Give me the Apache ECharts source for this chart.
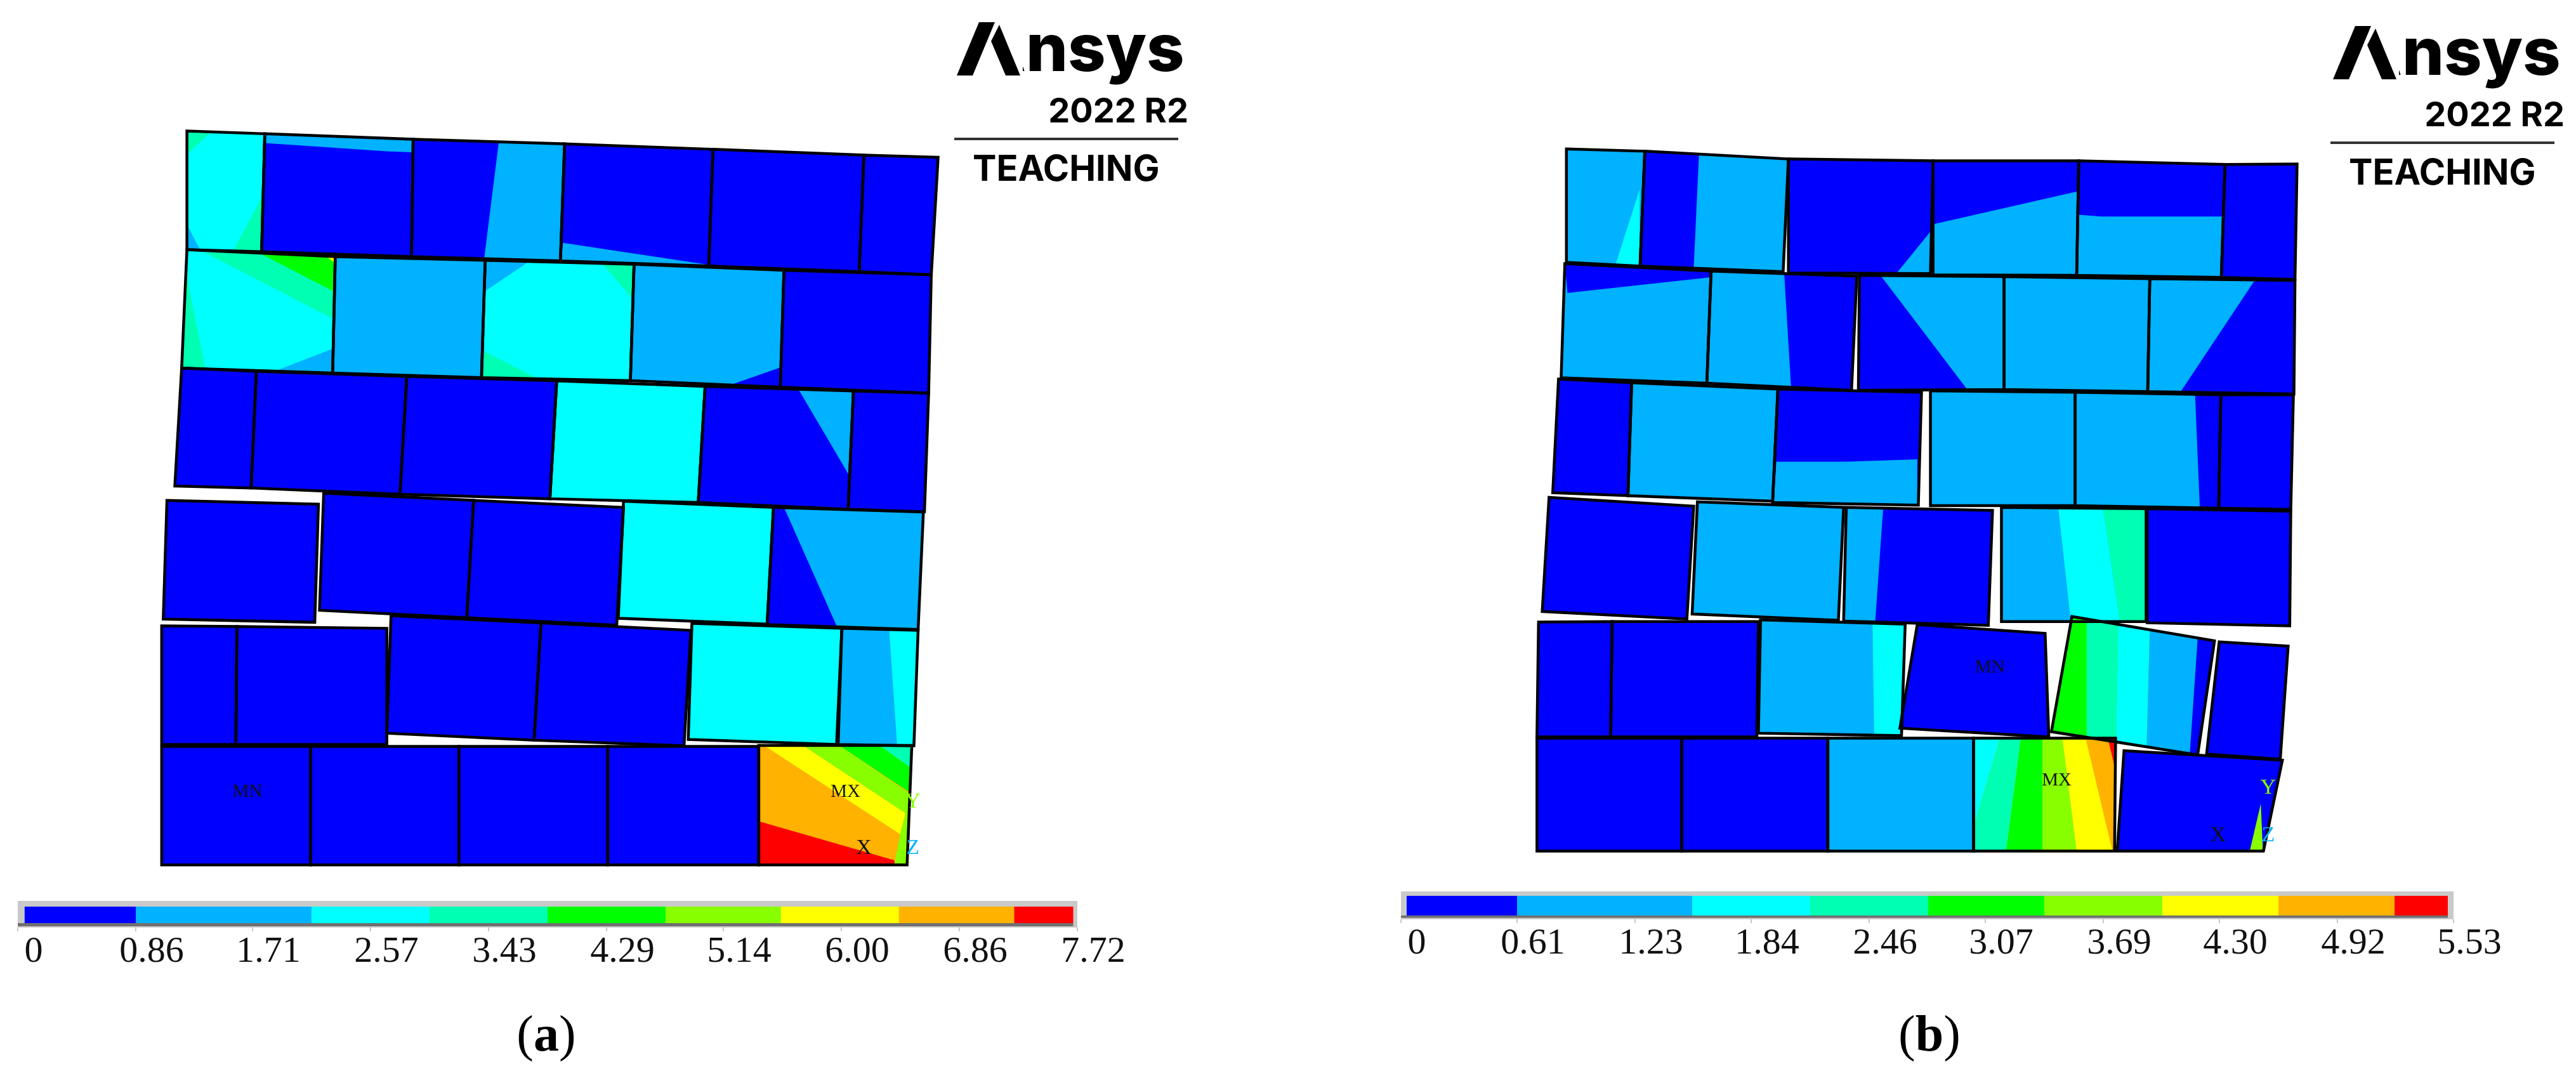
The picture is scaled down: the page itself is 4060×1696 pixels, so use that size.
<!DOCTYPE html>
<html>
<head>
<meta charset="utf-8">
<style>
  html, body { margin: 0; background: #fff; }
  #chart { width: 4060px; height: 1696px; }
</style>
<script src="https://cdn.jsdelivr.net/npm/echarts@6/dist/echarts.min.js"></script>
</head>
<body>
<div id="chart"></div>
<script>
// contour band order: 0 blue ... 8 red
const bandColors = ['#0000ff', '#00b2ff', '#00ffff', '#00ffb2', '#00ff00', '#88ff00', '#ffff00', '#ffb200', '#ff0000'];

// colour bars
const tickLabelsA = ['0', '0.86', '1.71', '2.57', '3.43', '4.29', '5.14', '6.00', '6.86', '7.72'];
const bandBreaksA = [0.05, 0.86, 2.14, 3.0, 3.86, 4.72, 5.56, 6.42, 7.26, 7.69];
const tickLabelsB = ['0', '0.61', '1.23', '1.84', '2.46', '3.07', '3.69', '4.30', '4.92', '5.53'];
const bandBreaksB = [0.03, 0.61, 1.53, 2.15, 2.77, 3.38, 4.0, 4.61, 5.22, 5.5];

// masonry units as [band, outline, patches], outline and patches
const unitsATop = [
  [2, [[90,67],[238,78],[232,548],[90,540]], [
    [3, [[90,67],[135,72],[93,155]]],
    [3, [[235,320],[232,548],[178,545]]],
    [1, [[90,440],[115,540],[90,540]]]]],
  [0, [[238,78],[520,100],[517,568],[232,548]], [
    [1, [[238,78],[520,100],[517,152],[470,148],[238,115]]]]],
  [0, [[520,100],[808,118],[800,585],[517,568]], [
    [1, [[683,108],[808,118],[800,585],[655,577]]]]],
  [0, [[808,118],[1090,140],[1082,605],[800,585]], [
    [1, [[805,513],[1075,598],[1082,605],[800,585]]]]],
  [0, [[1090,140],[1377,163],[1368,628],[1082,605]], []],
  [0, [[1377,163],[1518,172],[1505,640],[1368,628]], []],
  [2, [[90,540],[372,568],[367,1032],[80,1012]], [
    [3, [[118,545],[372,568],[367,815]]],
    [4, [[232,558],[372,568],[368,705]]],
    [6, [[355,568],[372,568],[370,590]]],
    [3, [[90,640],[95,700],[125,1012],[80,1012]]],
    [1, [[367,935],[260,1022],[367,1032]]]]],
  [1, [[372,568],[657,582],[650,1050],[367,1032]], []],
  [2, [[657,582],[940,598],[933,1062],[650,1050]], [
    [1, [[657,582],[740,588],[657,705]]],
    [3, [[655,945],[755,1052],[650,1050]]],
    [3, [[880,596],[940,598],[937,735]]]]],
  [1, [[940,598],[1225,622],[1218,1088],[933,1062]], [
    [0, [[1218,1010],[1125,1078],[1218,1088]]]]],
  [0, [[1225,622],[1505,640],[1500,1112],[1218,1088]], []],
  [0, [[80,1012],[222,1025],[212,1490],[67,1482]], []],
  [0, [[222,1025],[508,1045],[495,1515],[212,1490]], []],
  [0, [[508,1045],[793,1063],[780,1533],[495,1515]], []],
  [2, [[793,1063],[1075,1085],[1062,1548],[780,1533]], []],
  [0, [[1075,1085],[1357,1103],[1347,1575],[1062,1548]], [
    [1, [[1252,1095],[1357,1103],[1349,1440]]]]],
  [0, [[1357,1103],[1500,1112],[1492,1585],[1347,1575]], []]
];

const unitsABottom = [
  [0, [[52,22],[340,37],[333,508],[45,495]], []],
  [0, [[350,-7],[635,22],[622,490],[342,460]], []],
  [0, [[635,22],[920,50],[907,520],[622,490]], []],
  [2, [[920,25],[1205,50],[1193,515],[910,492]], []],
  [0, [[1205,50],[1490,68],[1480,537],[1193,517]], [
    [1, [[1225,50],[1490,68],[1480,537],[1325,522]]]]],
  [0, [[42,522],[185,525],[183,995],[42,995]], []],
  [0, [[185,525],[470,532],[470,995],[183,995]], []],
  [0, [[478,482],[763,510],[750,978],[470,950]], []],
  [0, [[763,510],[1048,540],[1035,1000],[750,978]], []],
  [2, [[1050,512],[1335,532],[1325,995],[1043,975]], []],
  [1, [[1335,532],[1480,540],[1472,1000],[1328,995]], [
    [2, [[1425,538],[1480,540],[1472,1000],[1440,998]]]]],
  [0, [[42,1003],[325,1003],[325,1475],[42,1475]], []],
  [0, [[325,1003],[607,1003],[607,1475],[325,1475]], []],
  [0, [[607,1003],[890,1003],[890,1475],[607,1475]], []],
  [0, [[890,1003],[1177,1003],[1177,1475],[890,1475]], []],
  [7, [[1177,999],[1468,999],[1459,1475],[1177,1475]], [
    [8, [[1178,1302],[1435,1457],[1435,1475],[1178,1475]]],
    [6, [[1190,1003],[1264,1003],[1456,1269],[1446,1353]]],
    [5, [[1264,1003],[1333,1003],[1463,1189],[1459,1475],[1435,1475],[1446,1353],[1456,1269]]],
    [4, [[1333,1003],[1409,1003],[1465,1086],[1463,1185]]],
    [3, [[1409,1003],[1467,1003],[1465,1086]]]]]
];

const unitsBTop = [
  [1, [[83,88],[232,97],[223,555],[83,540]], [
    [2, [[222,250],[222,552],[177,545]]]]],
  [1, [[232,97],[505,128],[495,577],[223,555]], [
    [0, [[232,97],[335,110],[325,560],[223,555]]]]],
  [0, [[505,128],[780,135],[775,585],[505,582]], [
    [1, [[778,410],[775,582],[712,580]]]]],
  [0, [[780,135],[1057,135],[1053,592],[780,590]], [
    [1, [[780,388],[1053,258],[1053,592],[780,590]]]]],
  [0, [[1057,135],[1335,150],[1328,600],[1053,592]], [
    [1, [[1057,350],[1100,357],[1330,357],[1328,600],[1053,592]]]]],
  [0, [[1335,150],[1472,148],[1468,608],[1328,600]], []],
  [1, [[80,545],[358,575],[350,1022],[73,1000]], [
    [0, [[80,545],[358,575],[355,600],[85,662]]]]],
  [1, [[358,575],[635,595],[625,1050],[350,1022]], [
    [0, [[497,585],[635,595],[625,1050],[510,1035]]]]],
  [1, [[640,592],[915,597],[915,1047],[638,1050]], [
    [0, [[640,592],[680,592],[845,1047],[638,1050]]]]],
  [1, [[915,597],[1192,605],[1188,1055],[915,1047]], []],
  [1, [[1192,605],[1468,612],[1466,1065],[1188,1055]], [
    [0, [[1392,610],[1468,612],[1466,1065],[1250,1058]]]]],
  [0, [[68,1005],[207,1020],[200,1470],[57,1458]], []],
  [1, [[207,1020],[485,1045],[475,1492],[200,1470]], []],
  [0, [[485,1045],[758,1058],[752,1508],[475,1497]], [
    [1, [[482,1335],[615,1335],[750,1325],[750,1508],[477,1497]]]]],
  [1, [[775,1052],[1050,1058],[1050,1510],[775,1510]], []],
  [1, [[1050,1058],[1327,1068],[1323,1520],[1050,1510]], [
    [0, [[1278,1065],[1327,1068],[1323,1520],[1287,1515]]]]],
  [0, [[1327,1068],[1465,1068],[1460,1525],[1323,1520]], []]
];

const unitsBBottom = [
  [0, [[50,10],[325,45],[312,495],[37,465]], []],
  [1, [[332,28],[610,50],[600,500],[322,475]], []],
  [0, [[615,50],[893,62],[885,520],[610,503]], [
    [1, [[615,50],[685,58],[670,505],[610,503]]]]],
  [1, [[910,50],[1185,55],[1185,505],[910,505]], [
    [2, [[1018,50],[1103,52],[1135,505],[1042,505]]],
    [3, [[1103,52],[1185,55],[1185,505],[1135,505]]]]],
  [0, [[1187,55],[1460,65],[1458,522],[1187,510]], []],
  [0, [[30,507],[170,505],[167,965],[27,965]], []],
  [0, [[170,505],[448,505],[445,965],[167,965]], []],
  [1, [[452,498],[727,515],[720,960],[448,950]], [
    [2, [[665,512],[727,515],[718,962],[668,960]]]]],
  [0, [[750,517],[993,552],[1000,965],[717,930]], []],
  [4, [[1044,485],[1315,582],[1283,1037],[1005,944]], [
    [3, [[1072,495],[1132,516],[1128,985],[1072,966]]],
    [2, [[1132,516],[1192,538],[1186,1004],[1128,985]]],
    [1, [[1192,538],[1283,570],[1268,1032],[1186,1004]]],
    [0, [[1283,570],[1315,582],[1283,1037],[1268,1032]]]]],
  [0, [[1324,586],[1455,603],[1440,1054],[1300,1033]], []],
  [0, [[27,970],[302,970],[302,1420],[27,1420]], []],
  [0, [[302,970],[580,970],[580,1420],[302,1420]], []],
  [1, [[580,970],[857,970],[857,1420],[580,1420]], []],
  [7, [[857,970],[1127,970],[1125,1420],[857,1420]], [
    [2, [[858,970],[907,970],[858,1315]]],
    [3, [[907,970],[947,970],[919,1420],[858,1420],[858,1315]]],
    [4, [[947,970],[988,970],[988,1420],[919,1420]]],
    [5, [[988,970],[1026,970],[1053,1420],[988,1420]]],
    [6, [[1026,970],[1070,970],[1121,1420],[1053,1420]]],
    [8, [[1113,976],[1125,970],[1125,1083]]]]],
  [0, [[1143,1020],[1444,1058],[1408,1420],[1130,1420]], [
    [5, [[1403,1231],[1407,1420],[1382,1420]]]]]
];

// plot annotations
const tagsA = [['MN', 205, 1185], ['MX', 1342, 1185], ['X', 1377, 1408], ['Y', 1470, 1225], ['Z', 1470, 1408]];
const tagsB = [['MN', 888, 690], ['MX', 1015, 1140], ['X', 1322, 1358], ['Y', 1417, 1168], ['Z', 1417, 1358]];
const tagColors = { MN: '#111', MX: '#111', X: '#111', Y: '#88ff00', Z: '#00b2ff' };

const serif = '"Liberation Serif", "Times New Roman", serif';

function unitsSeries(units, gridIndex) {
  const polys = [];
  units.forEach(u => {
    polys.push({ band: u[0], points: u[1] });
    u[2].forEach(p => polys.push({ band: p[0], points: p[1] }));
  });
  units.forEach(u => polys.push({ band: -1, points: u[1] }));
  return {
    type: 'custom',
    xAxisIndex: gridIndex,
    yAxisIndex: gridIndex,
    silent: true,
    encode: { x: 0, y: 1 },
    data: polys.map(p => [p.points[0][0], p.points[0][1], p.band]),
    renderItem: function (params, api) {
      const poly = polys[params.dataIndex];
      const points = poly.points.map(pt => api.coord(pt));
      if (poly.band < 0) {
        return { type: 'polygon', shape: { points: points }, style: { fill: 'none', stroke: '#000', lineWidth: 4.5 } };
      }
      return { type: 'polygon', shape: { points: points }, style: { fill: bandColors[poly.band] } };
    }
  };
}

function tagsSeries(tags, gridIndex) {
  return {
    type: 'custom',
    xAxisIndex: gridIndex,
    yAxisIndex: gridIndex,
    silent: true,
    z: 5,
    encode: { x: 1, y: 2 },
    data: tags,
    renderItem: function (params, api) {
      const pos = api.coord([api.value(1), api.value(2)]);
      const tag = tags[params.dataIndex][0];
      const size = tag.length > 1 ? 29 : 34;
      return {
        type: 'text',
        x: pos[0],
        y: pos[1],
        style: { text: tag, fill: tagColors[tag], font: size + 'px ' + serif, align: 'center', verticalAlign: 'middle' }
      };
    }
  };
}

function barSeries(breaks, gridIndex, bandLow, bandHigh, shadeLow) {
  const bars = [];
  bandColors.forEach((c, i) => bars.push([breaks[i], breaks[i + 1], bandLow, bandHigh, c]));
  // dark lower rim of the legend frame
  bars.push([0, breaks[9], shadeLow, bandLow, '#707070']);
  return {
    type: 'custom',
    xAxisIndex: gridIndex,
    yAxisIndex: gridIndex,
    silent: true,
    encode: { x: [0, 1] },
    data: bars,
    renderItem: function (params, api) {
      const bar = bars[params.dataIndex];
      const a = api.coord([bar[0], bar[3]]);
      const b = api.coord([bar[1], bar[2]]);
      return { type: 'rect', shape: { x: a[0], y: a[1], width: b[0] - a[0], height: b[1] - a[1] }, style: { fill: bar[4] } };
    }
  };
}

function hiddenAxes(gridIndex, xMax, yMax) {
  return {
    x: { type: 'value', gridIndex: gridIndex, show: false, min: 0, max: xMax },
    y: { type: 'value', gridIndex: gridIndex, show: false, min: 0, max: yMax, inverse: true }
  };
}

function barAxis(labels, gridIndex) {
  const ticks = labels.map(Number);
  return {
    type: 'value',
    gridIndex: gridIndex,
    min: 0,
    max: ticks[ticks.length - 1],
    splitLine: { show: false },
    axisLine: { show: false },
    axisTick: { show: true, customValues: ticks, length: 6, lineStyle: { color: '#c8c8c8', width: 2 } },
    axisLabel: {
      customValues: ticks,
      formatter: v => labels[ticks.indexOf(v)],
      color: '#111',
      fontFamily: serif,
      fontSize: 58,
      margin: 10,
      padding: [0, 0, 0, 50],
      hideOverlap: false
    }
  };
}

function logo(dx, dy) {
  const black = { fill: '#000' };
  return [
    { type: 'text', x: 1537 + dx, y: 81 + dy, style: { text: 'Ansys', font: '800 104px Inter', fill: '#000', verticalAlign: 'middle' } },
    { type: 'rect', shape: { x: 1500 + dx, y: 25 + dy, width: 112, height: 100 }, style: { fill: '#fff' } },
    { type: 'polygon', shape: { points: [[1508 + dx, 119 + dy], [1543 + dx, 35 + dy], [1568 + dx, 35 + dy], [1533 + dx, 119 + dy]] }, style: black },
    { type: 'polygon', shape: { points: [[1575 + dx, 39 + dy], [1562 + dx, 65 + dy], [1585 + dx, 119 + dy], [1608 + dx, 119 + dy]] }, style: black },
    { type: 'text', x: 1873 + dx, y: 177 + dy, style: { text: '2022 R2', font: '700 54px Inter', fill: '#000', align: 'right', verticalAlign: 'middle' } },
    { type: 'rect', shape: { x: 1504 + dx, y: 217 + dy, width: 353, height: 4 }, style: { fill: '#333' } },
    { type: 'text', x: 1533 + dx, y: 268 + dy, style: { text: 'TEACHING', font: '700 56px Inter', fill: '#000', verticalAlign: 'middle' } }
  ];
}

function caption(letter, x) {
  return {
    type: 'text',
    x: x,
    y: 1635,
    style: {
      text: '({b|' + letter + '})',
      font: '80px ' + serif,
      fill: '#000',
      align: 'center',
      verticalAlign: 'middle',
      rich: { b: { font: 'bold 80px ' + serif, fill: '#000' } }
    }
  };
}

const axesList = [
  hiddenAxes(0, 1568, 1568), hiddenAxes(1, 1568, 1568),
  hiddenAxes(2, 1568, 1568), hiddenAxes(3, 1568, 1568)
];

const option = {
  animation: false,
  backgroundColor: '#fff',
  grid: [
    { left: 220, top: 180, width: 1300, height: 620 },
    { left: 220, top: 780, width: 1300, height: 620 },
    { left: 2400, top: 200, width: 1300, height: 620 },
    { left: 2400, top: 780, width: 1300, height: 620 },
    { left: 28, top: 1420, width: 1670, height: 42, show: true, backgroundColor: '#c9c9c9', borderWidth: 0 },
    { left: 2208, top: 1405, width: 1659, height: 44, show: true, backgroundColor: '#c9c9c9', borderWidth: 0 }
  ],
  xAxis: axesList.map(a => a.x).concat([barAxis(tickLabelsA, 4), barAxis(tickLabelsB, 5)]),
  yAxis: axesList.map(a => a.y).concat([
    { type: 'value', gridIndex: 4, show: false, min: 0, max: 1 },
    { type: 'value', gridIndex: 5, show: false, min: 0, max: 1 }
  ]),
  series: [
    unitsSeries(unitsATop, 0),
    unitsSeries(unitsABottom, 1),
    unitsSeries(unitsBTop, 2),
    unitsSeries(unitsBBottom, 3),
    tagsSeries(tagsA, 1),
    tagsSeries(tagsB, 3),
    barSeries(bandBreaksA, 4, 0.167, 0.786, 0.05),
    barSeries(bandBreaksB, 5, 0.136, 0.84, 0.05)
  ],
  graphic: { elements: logo(0, 0).concat(logo(2169, 6), [caption('a', 861), caption('b', 3041)]) }
};

const myChart = echarts.init(document.getElementById('chart'), null, { renderer: 'canvas' });
myChart.setOption(option);
</script>
</body>
</html>
